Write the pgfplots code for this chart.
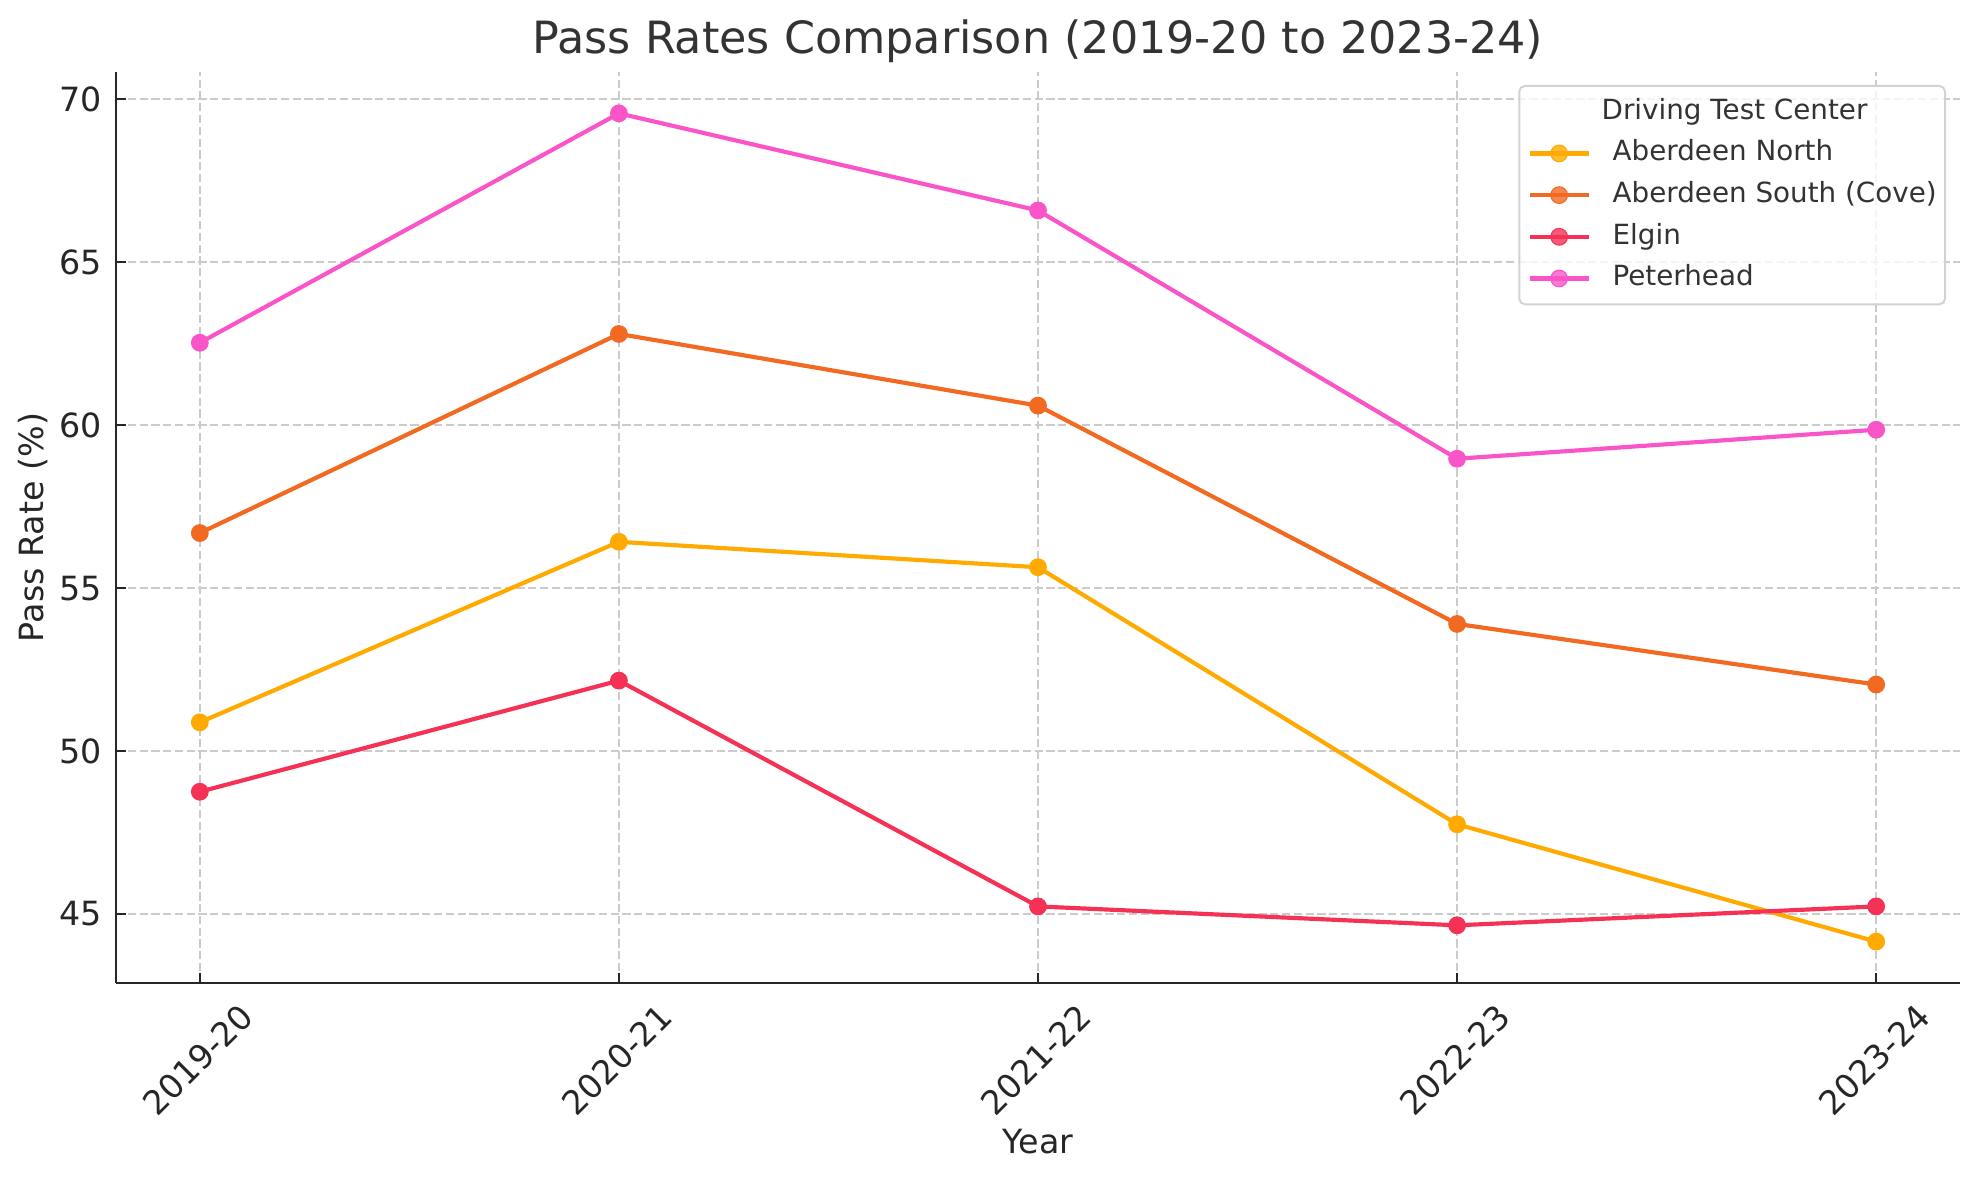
\documentclass[border=0pt]{standalone}
\usepackage{fontspec}
\setmainfont{DejaVu Sans}
\usepackage{pgfplots}
\pgfplotsset{compat=1.18}
\definecolor{cNorth}{RGB}{255,170,0}
\definecolor{cSouth}{RGB}{242,106,34}
\definecolor{cElgin}{RGB}{245,50,85}
\definecolor{cPeter}{RGB}{250,85,200}
\definecolor{gridc}{RGB}{203,203,203}
\definecolor{txt}{RGB}{38,38,38}
\begin{document}
\begin{tikzpicture}
\path[use as bounding box] (-41.76pt,-70.92pt) rectangle (670.68pt,353.88pt);
\begin{axis}[
  scale only axis,
  width=663.84pt, height=327.96pt,
  xmin=-0.2, xmax=4.2, ymin=42.88, ymax=70.84,
  axis x line=bottom, axis y line=left,
  axis line style={-, line width=0.8pt, color=txt},
  tick align=inside,
  major tick length=3.5pt,
  every tick/.style={line width=0.8pt, color=txt},
  xtick={0,1,2,3,4},
  xticklabels={2019-20,2020-21,2021-22,2022-23,2023-24},
  ytick={45,50,55,60,65,70},
  /pgf/number format/assume math mode=true,
  ticklabel style={font=\fontsize{12}{14}\selectfont, color=txt},
  xticklabel style={yshift=-27.7pt, xshift=-0.7pt, rotate=45, anchor=center, inner sep=0pt},
  yticklabel style={anchor=east, inner sep=0pt, xshift=-5pt},
  grid=major,
  major grid style={color=gridc, line width=0.8pt, dash pattern=on 2.96pt off 1.28pt},
  xlabel={Year},
  ylabel={Pass Rate (\%)},
  label style={font=\fontsize{12}{14}\selectfont, color=txt},
  xlabel style={at={(rel axis cs:0.5,0)}, anchor=base, inner sep=0pt, yshift=-61.4pt},
  ylabel style={at={(rel axis cs:0,0.5)}, anchor=center, inner sep=0pt, yshift=29.9pt},
  title={Pass Rates Comparison (2019-20 to 2023-24)},
  title style={at={(rel axis cs:0.5,1)}, anchor=base, inner sep=0pt, yshift=0.8pt, font=\fontsize{16}{19}\selectfont, color=black!80},
  legend cell align=left,
  legend style={at={(rel axis cs:1,1)}, anchor=north east, xshift=-5.04pt, yshift=-4.68pt,
    draw=gray!35, line width=0.7pt, fill=white, fill opacity=0.8, text opacity=1,
    rounded corners=2pt, inner xsep=3.0pt, inner ysep=4.3pt, row sep=5.0pt,
    font=\fontsize{10}{12}\selectfont, text=black!80,
    nodes={inner sep=0pt, text height=7.6pt, text depth=2.4pt},
    /tikz/every odd column/.append style={column sep=7.9pt}},
  legend image code/.code={\draw[mark repeat=2,mark phase=2,#1] plot coordinates {(0pt,0pt)(10.6pt,0pt)(21.2pt,0pt)};},
  every axis plot/.append style={line width=1.5pt, mark=*, mark size=3pt, mark options={solid, line width=0.4pt}},
]
\addlegendimage{empty legend}
\addlegendentry{\hspace*{43.9pt}\makebox[0pt][c]{Driving Test Center}}
\addplot[color=cNorth] coordinates {(0,50.88) (1,56.42) (2,55.64) (3,47.75) (4,44.15)};
\addlegendentry{Aberdeen North}
\addplot[color=cSouth] coordinates {(0,56.69) (1,62.80) (2,60.60) (3,53.90) (4,52.04)};
\addlegendentry{Aberdeen South (Cove)}
\addplot[color=cElgin] coordinates {(0,48.75) (1,52.16) (2,45.23) (3,44.65) (4,45.23)};
\addlegendentry{Elgin}
\addplot[color=cPeter] coordinates {(0,62.53) (1,69.57) (2,66.59) (3,58.97) (4,59.86)};
\addlegendentry{Peterhead}
\end{axis}
\end{tikzpicture}
\end{document}
